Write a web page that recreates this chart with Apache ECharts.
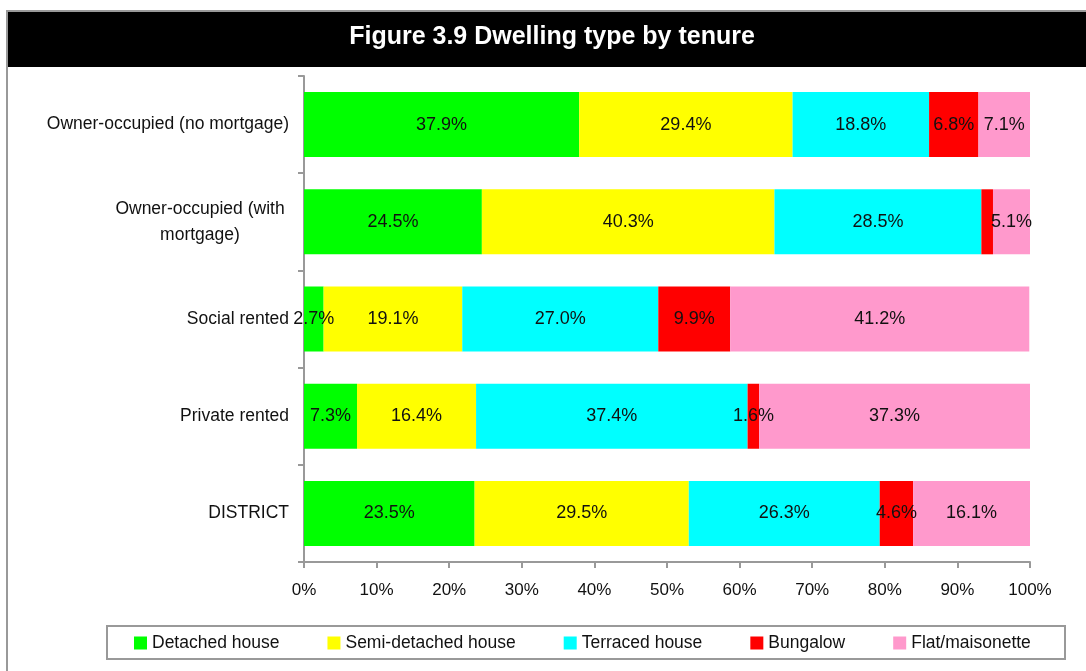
<!DOCTYPE html>
<html>
<head>
<meta charset="utf-8">
<script src="https://cdn.jsdelivr.net/npm/echarts@6/dist/echarts.min.js"></script>
<style>
  html, body { margin: 0; padding: 0; background: #fff; }
  #chart { width: 1086px; height: 671px; }
</style>
</head>
<body>
<div id="chart"></div>
<script>
// tenure categories, top to bottom
var categories = ['Owner-occupied (no mortgage)', 'Owner-occupied (with mortgage)', 'Social rented', 'Private rented', 'DISTRICT']
var detached = [37.9, 24.5, 2.7, 7.3, 23.5]
var semiDetached = [29.4, 40.3, 19.1, 16.4, 29.5]
var terraced = [18.8, 28.5, 27.0, 37.4, 26.3]
var bungalow = [6.8, 1.6, 9.9, 1.6, 4.6]
var flat = [7.1, 5.1, 41.2, 37.3, 16.1]
var xTicks = [0, 10, 20, 30, 40, 50, 60, 70, 80, 90, 100]

var font = 'Liberation Sans, Arial, sans-serif'
var chart = echarts.init(document.getElementById('chart'))

function makeSeries(name, data, color, hideIdx) {
  return {
    name: name,
    type: 'bar',
    stack: 'total',
    barWidth: 65,
    data: data.map(function (v, i) {
      var item = { value: v }
      if (hideIdx && hideIdx.indexOf(i) >= 0) item.label = { show: false }
      return item
    }),
    itemStyle: { color: color },
    label: {
      show: true,
      position: 'inside',
      color: '#111',
      fontFamily: font,
      fontSize: 18,
      formatter: function (p) { return p.value.toFixed(1) + '%' }
    },
    animation: false
  }
}

chart.setOption({
  backgroundColor: '#fff',
  textStyle: { fontFamily: font },
  graphic: [
    // outer frame
    { type: 'polyline', shape: { points: [[7, 671], [7, 11], [1090, 11]] },
      style: { stroke: '#999', lineWidth: 2, fill: null }, silent: true },
    // title band
    { type: 'rect', shape: { x: 8, y: 12, width: 1080, height: 55 },
      style: { fill: '#000' }, silent: true },
    { type: 'text', x: 552, y: 37,
      style: { text: 'Figure 3.9 Dwelling type by tenure', fill: '#fff',
        font: 'bold 25px ' + font, textAlign: 'center', textVerticalAlign: 'middle' }, silent: true },
    // legend box
    { type: 'rect', shape: { x: 107, y: 626, width: 958, height: 33 },
      style: { fill: null, stroke: '#999', lineWidth: 2 }, silent: true }
  ],
  legend: {
    left: 129,
    top: 629,
    itemWidth: 13,
    itemHeight: 13,
    itemGap: 48,
    icon: 'rect',
    textStyle: { fontFamily: font, fontSize: 17.5, color: '#111' },
    data: ['Detached house', 'Semi-detached house', 'Terraced house', 'Bungalow', 'Flat/maisonette']
  },
  grid: { left: 304, right: 56, top: 76, height: 486 },
  xAxis: {
    type: 'value',
    min: xTicks[0],
    max: xTicks[xTicks.length - 1],
    interval: 10,
    axisLine: { show: true, lineStyle: { color: '#999', width: 2 } },
    axisTick: { show: true, length: 6, lineStyle: { color: '#999', width: 2 } },
    splitLine: { show: false },
    axisLabel: { color: '#111', fontSize: 17, fontFamily: font, margin: 20, formatter: '{value}%' }
  },
  yAxis: {
    type: 'category',
    inverse: true,
    data: categories,
    axisLine: { show: true, lineStyle: { color: '#999', width: 2 } },
    axisTick: { show: true, length: 6, lineStyle: { color: '#999', width: 2 } },
    axisLabel: {
      color: '#111',
      fontSize: 17.5,
      fontFamily: font,
      margin: 15,
      formatter: function (v) {
        if (v === 'Owner-occupied (with mortgage)') return '{w|Owner-occupied (with}\n{w|mortgage)}'
        return v
      },
      rich: {
        w: { width: 178, align: 'center', fontSize: 17.5, fontFamily: font, color: '#111', lineHeight: 26 }
      }
    }
  },
  series: [
    makeSeries('Detached house', detached, '#00ff00'),
    makeSeries('Semi-detached house', semiDetached, '#ffff00'),
    makeSeries('Terraced house', terraced, '#00ffff'),
    makeSeries('Bungalow', bungalow, '#ff0000', [1]),
    makeSeries('Flat/maisonette', flat, '#ff99cc')
  ]
})
</script>
</body>
</html>
